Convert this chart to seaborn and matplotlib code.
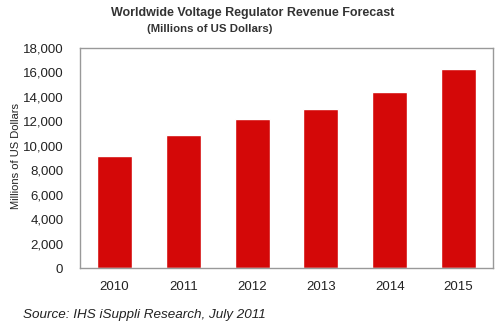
import matplotlib
matplotlib.use("Agg")
import matplotlib.pyplot as plt
import seaborn as sns
import pandas as pd

years = ["2010", "2011", "2012", "2013", "2014", "2015"]
revenue = [9150, 10850, 12200, 13050, 14400, 16300]
yticks = [0, 2000, 4000, 6000, 8000, 10000, 12000, 14000, 16000, 18000]

sns.set_style("white")
plt.rcParams["font.family"] = ["Liberation Sans", "DejaVu Sans"]

df = pd.DataFrame({"year": years, "revenue": revenue})

fig = plt.figure(figsize=(5.0, 3.29), dpi=100)
ax = fig.add_axes([0.16, 0.185, 0.826, 0.669])
sns.barplot(data=df, x="year", y="revenue", color="#D40808", saturation=1,
            width=0.51, ax=ax)
ax.set_ylim(0, 18000)
ax.set_yticks(yticks)
ax.set_yticklabels([f"{v:,}" for v in yticks], fontsize=9.5, color="#222222")
ax.tick_params(axis="x", labelsize=9.5, colors="#222222", pad=9, length=0)
ax.tick_params(axis="y", length=0, pad=12)
ax.set_xlabel("")
ax.set_ylabel("Millions of US Dollars", fontsize=8, color="#222222")
ax.yaxis.set_label_coords(-0.142, 0.51)
for s in ax.spines.values():
    s.set_color("#999999")
    s.set_linewidth(1)

fig.text(0.506, 0.96, "Worldwide Voltage Regulator Revenue Forecast",
         ha="center", va="center", fontsize=9, fontweight="bold", color="#333333")
fig.text(0.42, 0.912, "(Millions of US Dollars)",
         ha="center", va="center", fontsize=8.2, fontweight="bold", color="#333333")
fig.text(0.046, 0.043, "Source: IHS iSuppli Research, July 2011",
         ha="left", va="center", fontsize=9.7, style="italic", color="#222222")

fig.savefig("out.png", dpi=100)
